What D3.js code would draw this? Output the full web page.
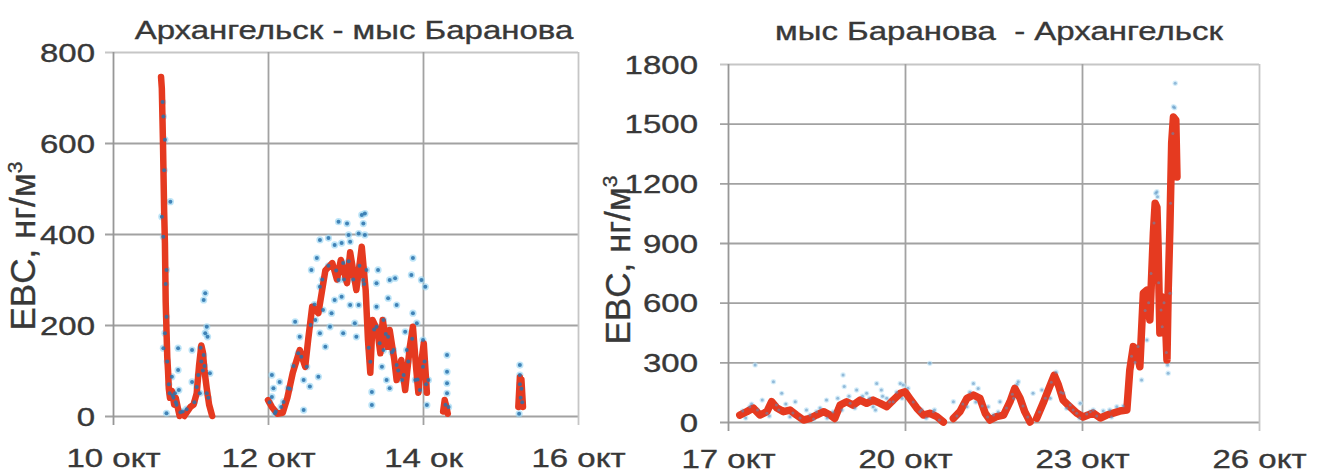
<!DOCTYPE html>
<html>
<head>
<meta charset="utf-8">
<script src="https://cdn.jsdelivr.net/npm/d3@7"></script>
<style>
  body { margin: 0; background: #fff; }
  svg { display: block; }
  text { font-family: "Liberation Sans", Arial, sans-serif; fill: #383838; stroke: #383838; stroke-width: 0.35px; }
</style>
</head>
<body>
<svg id="chart" width="1319" height="472"></svg>
<script>
// ---------- Archangelsk -> Cape Baranov (10–16 Oct) ----------
const leftTitle = "Архангельск - мыс Баранова";
const leftXTicks = [10, 12, 14, 16];
const leftXLabels = ["10 окт", "12 окт", "14 ок", "16 окт"];
const leftYTicks = [0, 200, 400, 600, 800];

// smoothed EBC, [day of October, ng/m3]; null marks a gap in the record
const leftSmooth = [
  [10.62, 745], [10.63, 720], [10.645, 600], [10.66, 450], [10.67, 380], [10.68, 250],
  [10.70, 130], [10.71, 100], [10.72, 60], [10.735, 40], [10.76, 55], [10.79, 25],
  [10.81, 40], [10.84, 15], [10.86, 0], [10.88, 5], [10.92, 0], [10.96, 10], [11.00, 20],
  [11.04, 25], [11.08, 50], [11.11, 110], [11.14, 155], [11.16, 140], [11.18, 100],
  [11.21, 60], [11.24, 25], [11.28, 0],
  null,
  [12.00, 35], [12.05, 20], [12.12, 5], [12.19, 7], [12.25, 40], [12.32, 95], [12.41, 145],
  [12.48, 108], [12.52, 170], [12.57, 240], [12.65, 226], [12.74, 320], [12.83, 336],
  [12.89, 300], [12.94, 343], [13.02, 292], [13.06, 360], [13.14, 277], [13.21, 372],
  [13.26, 277], [13.29, 167], [13.32, 95], [13.35, 211], [13.41, 189], [13.45, 138],
  [13.48, 211], [13.54, 152], [13.57, 189], [13.63, 123], [13.66, 79], [13.72, 123],
  [13.77, 57], [13.83, 152], [13.87, 196], [13.91, 108], [13.94, 51], [13.97, 108],
  [14.01, 160], [14.05, 51],
  null,
  [14.26, 10], [14.28, 35], [14.30, 20], [14.32, 5],
  null,
  [15.23, 20], [15.25, 85], [15.26, 60], [15.27, 80], [15.29, 20]
];

// raw EBC readings, [day of October, ng/m3]
const leftRaw = [
  [10.65, 658], [10.67, 607], [10.63, 438], [10.65, 394], [10.74, 471], [10.69, 321],
  [10.69, 218], [10.67, 182], [10.65, 149], [10.84, 149], [11.02, 145], [10.84, 101],
  [10.76, 86], [10.80, 50], [10.85, 57], [11.02, 75], [11.08, 64], [11.12, 50], [10.69, 6],
  [11.19, 270], [11.17, 255], [11.21, 196], [11.19, 182], [11.22, 174], [11.17, 134],
  [11.25, 94], [11.21, 50], [10.72, 70], [10.78, 40], [10.82, 25], [10.90, 10],
  [11.14, 120], [11.16, 100],
  [10.64, 690], [10.66, 540], [10.68, 290], [10.70, 120], [10.73, 50], [10.77, 45],
  [10.81, 30], [10.87, 8], [10.95, 15], [11.05, 30], [11.10, 90], [11.13, 150],
  [11.18, 110], [11.23, 40],
  [12.05, 90], [12.15, 75], [12.07, 61], [12.26, 61], [12.05, 42], [12.20, 31], [12.09, 6],
  [12.46, 13], [12.35, 207], [12.41, 174], [12.39, 138], [12.50, 108], [12.46, 79],
  [12.54, 65], [12.65, 86], [12.56, 321], [12.67, 387], [12.78, 391], [12.63, 347],
  [12.67, 284], [12.61, 211], [12.71, 233], [12.80, 196], [12.74, 152], [12.67, 182],
  [12.86, 376], [12.95, 380], [13.04, 398], [13.06, 383], [12.91, 427], [13.02, 423],
  [13.21, 442], [13.25, 445], [13.23, 423], [13.17, 401], [13.25, 398], [12.97, 336],
  [12.91, 299], [12.86, 255], [12.95, 262], [12.82, 226], [12.97, 182], [13.14, 174],
  [13.12, 204], [13.06, 244], [13.17, 244], [13.23, 299], [13.27, 321], [13.42, 321],
  [13.40, 292], [13.40, 240], [13.57, 299], [13.64, 303], [13.55, 259], [13.66, 244],
  [13.40, 196], [13.49, 211], [13.55, 174], [13.32, 119], [13.47, 108], [13.34, 53],
  [13.34, 24], [13.49, 145], [13.62, 145], [13.66, 112], [13.53, 79], [13.57, 61],
  [13.73, 79], [13.77, 185], [13.87, 347], [13.85, 310], [13.98, 299], [14.03, 284],
  [13.87, 226], [13.92, 204], [13.79, 145], [14.00, 167], [14.00, 108], [13.90, 79],
  [13.96, 57], [14.07, 79], [14.05, 24],
  [12.02, 30], [12.10, 10], [12.17, 20], [12.28, 60], [12.33, 110], [12.43, 130],
  [12.55, 200], [12.60, 245], [12.70, 300], [12.78, 330], [12.88, 320], [12.98, 300],
  [13.04, 340], [13.10, 300], [13.18, 330], [13.24, 290], [13.30, 150], [13.37, 190],
  [13.44, 160], [13.52, 180], [13.60, 140], [13.68, 100], [13.75, 90], [13.81, 120],
  [13.86, 170], [13.93, 80], [14.02, 120], [14.04, 70],
  [14.31, 134], [14.31, 97], [14.31, 72], [14.31, 50], [14.33, 20], [14.29, 25],
  [15.25, 112], [15.25, 90], [15.25, 70], [15.26, 40], [15.24, 5], [15.27, 60], [15.28, 30]
];

// ---------- Cape Baranov -> Archangelsk (17–26 Oct) ----------
const rightTitle = "мыс Баранова  - Архангельск";
const rightXTicks = [17, 20, 23, 26];
const rightXLabels = ["17 окт", "20 окт", "23 окт", "26 окт"];
const rightYTicks = [0, 300, 600, 900, 1200, 1500, 1800];

const rightSmooth = [
  [17.20, 35], [17.32, 52], [17.43, 70], [17.54, 35], [17.66, 52], [17.74, 102],
  [17.83, 70], [17.94, 52], [18.05, 60], [18.16, 35], [18.28, 10], [18.39, 18],
  [18.50, 35], [18.62, 52], [18.73, 35], [18.81, 18], [18.90, 85], [19.01, 102],
  [19.12, 85], [19.24, 110], [19.35, 94], [19.46, 110], [19.58, 94], [19.69, 77],
  [19.80, 110], [19.92, 144], [20.00, 152], [20.08, 119], [20.20, 70], [20.31, 35],
  [20.42, 44], [20.54, 27], [20.65, 0],
  null,
  [20.82, 18], [20.93, 52], [21.05, 119], [21.16, 136], [21.27, 119], [21.36, 44],
  [21.44, 10], [21.55, 27], [21.67, 35], [21.78, 102], [21.86, 169], [21.95, 119],
  [22.03, 52], [22.12, 0],
  null,
  [22.23, 18], [22.34, 94], [22.43, 161], [22.53, 235], [22.60, 186], [22.68, 110],
  [22.80, 75], [22.91, 45], [23.02, 25], [23.19, 45], [23.31, 20], [23.42, 35],
  [23.53, 45], [23.64, 55], [23.76, 60], [23.81, 261], [23.87, 379], [23.93, 362],
  [23.98, 278], [24.04, 648], [24.10, 663], [24.15, 513], [24.21, 950], [24.24, 1100],
  [24.27, 1080], [24.29, 880], [24.32, 447], [24.35, 630], [24.41, 548], [24.44, 312],
  [24.46, 648], [24.49, 980], [24.52, 1403], [24.55, 1533], [24.59, 1518], [24.61, 1232]
];

const rightRaw = [
  [17.46, 287], [17.77, 203], [17.91, 144], [17.82, 85], [17.37, 77], [18.14, 102],
  [18.39, 35], [18.67, 110], [18.95, 236], [18.97, 178], [19.18, 161], [19.35, 144],
  [19.52, 194], [19.60, 161], [19.69, 119], [19.92, 194], [19.97, 186], [20.42, 295],
  [20.48, 52], [20.82, 102], [21.16, 194], [21.24, 169], [21.41, 77], [21.61, 102],
  [21.92, 203], [22.17, 144], [22.32, 161], [22.68, 144], [22.80, 85], [22.97, 94],
  [23.14, 52], [17.66, 44], [18.05, 27], [18.50, 52], [19.07, 94], [19.46, 77],
  [19.80, 102], [20.25, 52], [21.05, 77], [21.50, 35], [21.84, 119], [22.46, 119],
  [22.74, 69], [22.91, 44], [23.19, 60], [23.47, 60], [23.59, 77],
  [17.25, 55], [17.30, 20], [17.40, 90], [17.50, 60], [17.58, 110], [17.70, 30],
  [17.86, 60], [17.98, 90], [18.10, 45], [18.22, 20], [18.33, 60], [18.45, 15],
  [18.56, 70], [18.68, 20], [18.78, 50], [18.86, 120], [18.93, 60], [19.05, 130],
  [19.15, 70], [19.28, 130], [19.40, 120], [19.50, 60], [19.62, 130], [19.74, 100],
  [19.86, 150], [19.95, 120], [20.05, 170], [20.14, 100], [20.28, 60], [20.36, 20],
  [20.50, 60], [20.58, 10], [20.88, 30], [20.98, 90], [21.10, 150], [21.20, 100],
  [21.31, 80], [21.40, 25], [21.58, 50], [21.72, 70], [21.82, 140], [21.90, 190],
  [22.00, 80], [22.08, 25], [22.28, 50], [22.38, 120], [22.48, 200], [22.56, 250],
  [22.64, 150], [22.85, 60], [22.96, 20], [23.08, 40], [23.25, 30], [23.36, 55],
  [23.50, 25], [23.70, 80], [23.84, 330], [23.90, 300], [24.07, 560], [24.13, 600],
  [24.22, 1000], [24.25, 1150], [24.30, 700], [24.39, 600], [24.43, 350], [24.50, 1100],
  [24.54, 1450], [24.57, 1580],
  [24.58, 1703], [24.55, 1585], [24.27, 1158], [24.28, 1133], [24.17, 747],
  [24.34, 563], [24.36, 479], [24.46, 245], [24.45, 287], [24.01, 211], [23.95, 379],
  [24.10, 412], [24.49, 647]
];

// ---------- drawing ----------
const svg = d3.select("#chart");
const SX = 1.32;          // glyph width stretch used for horizontal labels
const GRID = "#a2a2a2";
const FRAME = "#c6c6c6";

function panel(o) {
  const g = svg.append("g");
  const x = d3.scaleLinear().domain(o.xDomain).range([o.left, o.right]);
  const y = d3.scaleLinear().domain(o.yDomain).range([o.bottom, o.top]);

  // horizontal grid lines with value labels
  const ya = g.append("g")
    .attr("transform", `translate(${o.left - 8},0)`)
    .call(d3.axisLeft(y).tickValues(o.yTicks).tickSize(-(o.right - o.left + 8)).tickFormat(d3.format("d")));
  ya.select(".domain").remove();
  ya.selectAll(".tick line")
    .attr("stroke", d => d === o.yDomain[1] ? FRAME : GRID)
    .attr("stroke-width", 1.8);
  ya.selectAll(".tick text")
    .attr("x", null).attr("dy", "0.36em")
    .attr("font-size", 25)
    .attr("transform", `translate(${-o.yLabelGap},0) scale(${SX},1)`);

  // vertical grid lines (left axis and right frame included) with date labels
  const xa = g.append("g")
    .attr("transform", `translate(0,${o.bottom + 9})`)
    .call(d3.axisBottom(x).tickValues(o.xTicks).tickSize(-(o.bottom - o.top + 9))
      .tickFormat((d, i) => o.xLabels[i]));
  xa.select(".domain").remove();
  xa.selectAll(".tick line")
    .attr("stroke", (d, i) => i === 0 ? "#979797" : (i === o.xTicks.length - 1 ? FRAME : GRID))
    .attr("stroke-width", 1.8);
  xa.selectAll(".tick text")
    .attr("y", null).attr("dy", null)
    .attr("font-size", 25)
    .attr("transform", `translate(0,${o.xLabelY - o.bottom - 9}) scale(${SX},1)`);

  // light halos of the raw readings sit beneath the smoothed curve
  g.append("g").selectAll("circle")
    .data(o.raw)
    .join("circle")
    .attr("cx", d => x(d[0]))
    .attr("cy", d => y(d[1]))
    .attr("r", o.dotR + o.haloExtra)
    .attr("fill", o.dotHalo)
    .attr("fill-opacity", 0.65);

  // smoothed series
  const line = d3.line().defined(d => d !== null).x(d => x(d[0])).y(d => y(d[1]));
  g.append("path")
    .datum(o.smooth)
    .attr("d", line)
    .attr("fill", "none")
    .attr("stroke", "#e53a20")
    .attr("stroke-width", o.lineWidth)
    .attr("stroke-linejoin", "round")
    .attr("stroke-linecap", "round");

  // raw readings
  g.append("g").selectAll("circle")
    .data(o.raw)
    .join("circle")
    .attr("cx", d => x(d[0]))
    .attr("cy", d => y(d[1]))
    .attr("r", o.dotR)
    .attr("fill", o.dotFill)
    .attr("fill-opacity", o.dotOpacity);

  // title
  g.append("text")
    .attr("transform", `translate(${o.titleX},${o.titleY}) scale(${SX},1)`)
    .attr("text-anchor", "middle")
    .attr("font-size", 25)
    .style("white-space", "pre")
    .text(o.title);

  // value axis title
  const yt = g.append("text")
    .attr("transform", `translate(${o.yTitleX},${o.yTitleY}) rotate(-90)`)
    .attr("text-anchor", "middle")
    .attr("font-size", 35);
  yt.append("tspan").text("EBC, нг/м");
  yt.append("tspan").attr("dy", "-0.6em").attr("font-size", 21).text("3");
}

panel({
  xDomain: [10, 16], yDomain: [0, 800],
  left: 113, right: 578, top: 52, bottom: 416,
  xTicks: leftXTicks, xLabels: leftXLabels, yTicks: leftYTicks,
  yLabelGap: 10, xLabelY: 467,
  smooth: leftSmooth, raw: leftRaw, lineWidth: 6.5,
  dotR: 2.0, haloExtra: 1.6, dotFill: "#2a72ab", dotOpacity: 0.85, dotHalo: "#9ad6f3",
  title: leftTitle, titleX: 354, titleY: 39,
  yTitleX: 35, yTitleY: 246
});

panel({
  xDomain: [17, 26], yDomain: [0, 1800],
  left: 728, right: 1259, top: 64, bottom: 422,
  xTicks: rightXTicks, xLabels: rightXLabels, yTicks: rightYTicks,
  yLabelGap: 22, xLabelY: 468,
  smooth: rightSmooth, raw: rightRaw, lineWidth: 7.5,
  dotR: 1.5, haloExtra: 1.2, dotFill: "#5b8fc0", dotOpacity: 0.55, dotHalo: "#bfe3f6",
  title: rightTitle, titleX: 999, titleY: 40,
  yTitleX: 630, yTitleY: 260
});
</script>
</body>
</html>
